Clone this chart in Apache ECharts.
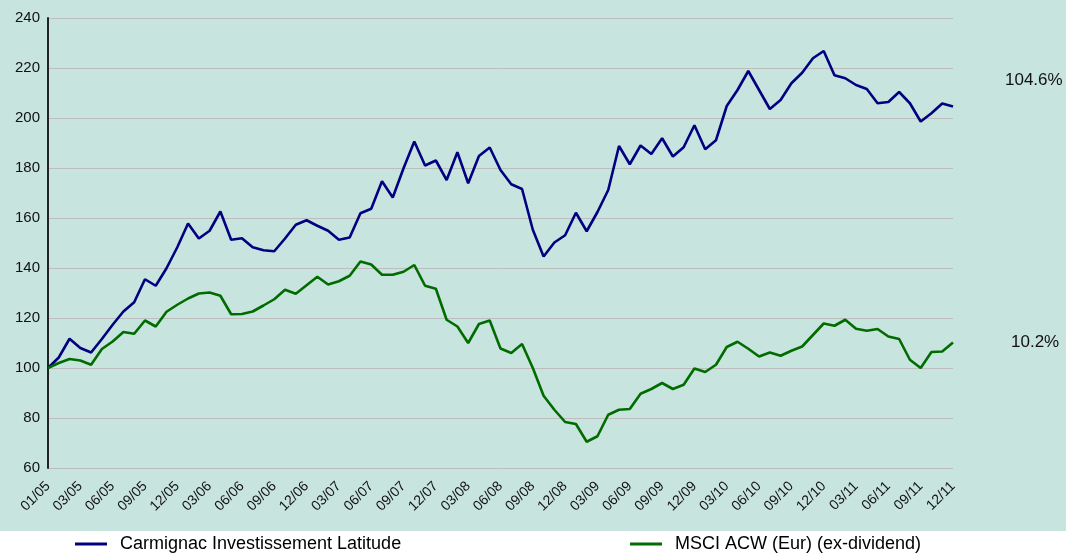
<!DOCTYPE html>
<html>
<head>
<meta charset="utf-8">
<script src="https://cdn.jsdelivr.net/npm/echarts@6/dist/echarts.min.js"></script>
<style>
  html, body { margin: 0; padding: 0; background: #ffffff; }
  #perf_chart { width: 1066px; height: 559px; }
</style>
</head>
<body>
<div id="perf_chart"></div>
<script>
// monthly points, base 100 at start; only every 3rd month is labelled
const categories = [];
for (let i = 0; i <= 84; i++) {
  const m = i % 12 || 12;
  const y = i % 12 === 0 ? 4 + i / 12 : 5 + Math.floor(i / 12);
  categories.push(String(m).padStart(2, '0') + '/' + String(y).padStart(2, '0'));
}
categories[0] = '01/05';

const fundName = 'Carmignac Investissement Latitude';
const indexName = 'MSCI ACW (Eur) (ex-dividend)';

const fundValues = [
  100, 104.2, 111.7, 108, 106.2, 111.6, 117.3, 122.6, 126.3, 135.5,
  132.9, 139.9, 148.3, 157.8, 151.8, 154.9, 162.6, 151.3, 151.9, 148.3,
  147.1, 146.7, 151.8, 157.3, 159.1, 156.9, 154.9, 151.3, 152.2, 161.9,
  163.7, 174.7, 168.2, 179.9, 190.6, 181.0, 183.0, 175.2, 186.3, 173.9,
  184.8, 188.2, 179.2, 173.5, 171.6, 155.3, 144.6, 150.2, 153.1, 162.1,
  154.7, 162.4, 171.2, 188.8, 181.5, 189.0, 185.6, 191.9, 184.6, 188.3,
  197.1, 187.5, 191.1, 204.8, 211.2, 218.8, 211.2, 203.6, 207.2, 213.9,
  218.1, 223.9, 226.8, 217.1, 215.9, 213.2, 211.6, 205.9, 206.4, 210.4,
  205.9, 198.6, 201.9, 205.8, 204.6
];

const indexValues = [
  100, 102, 103.6, 103, 101.3, 107.6, 110.6, 114.4, 113.7, 119,
  116.6, 122.5, 125.3, 127.8, 129.8, 130.2, 128.9, 121.5, 121.6, 122.6,
  125, 127.5, 131.3, 129.7, 133.1, 136.5, 133.4, 134.7, 136.9, 142.6,
  141.4, 137.3, 137.3, 138.5, 141.2, 132.9, 131.7, 119.3, 116.6, 110,
  117.6, 119, 107.8, 106, 109.6, 100, 88.9, 83.3, 78.4, 77.6,
  70.5, 72.7, 81.3, 83.3, 83.6, 89.7, 91.6, 94, 91.6, 93.3,
  99.8, 98.4, 101.3, 108.4, 110.5, 107.7, 104.6, 106.2, 104.9, 106.9,
  108.6, 113.2, 117.8, 116.9, 119.3, 115.7, 114.9, 115.6, 112.6, 111.6,
  103.3, 100, 106.4, 106.6, 110.2
];

const chart = echarts.init(document.getElementById('perf_chart'));
const font = '"Liberation Sans", Arial, sans-serif';

// label = performance since start
const perfLabel = (p) => (p.value - 100).toFixed(1) + '%';

// legend line sits a bit below the text, like an underline
const legendText = {
  fontFamily: font, fontSize: 18, color: '#000',
  padding: [0, 0, 10, 8]
};

const option = {
  animation: false,
  backgroundColor: '#ffffff',
  color: ['#000080', '#006c00'],
  graphic: [{
    type: 'rect',
    z: -10,
    shape: { x: 0, y: 0, width: 1066, height: 531 },
    style: { fill: '#c8e4de' }
  }],
  grid: { left: 48, right: 113, top: 18, bottom: 91 },
  legend: [
    {
      data: [fundName],
      left: 75, top: 535, padding: 0,
      icon: 'rect', itemWidth: 32, itemHeight: 3,
      textStyle: legendText
    },
    {
      data: [indexName],
      left: 630, top: 535, padding: 0,
      icon: 'rect', itemWidth: 32, itemHeight: 3,
      textStyle: legendText
    }
  ],
  xAxis: {
    type: 'category',
    boundaryGap: false,
    data: categories,
    axisLine: { show: false },
    axisTick: { show: false },
    axisLabel: {
      interval: 2,
      rotate: 45,
      margin: 16,
      fontFamily: font,
      fontSize: 14,
      color: '#111'
    },
    splitLine: { show: false }
  },
  yAxis: {
    type: 'value',
    min: 60,
    max: 240,
    interval: 20,
    axisLine: { show: true, lineStyle: { color: '#222', width: 2 } },
    axisTick: { show: false },
    axisLabel: { fontFamily: font, fontSize: 15, color: '#111', margin: 8 },
    splitLine: { lineStyle: { color: '#bdbdbd', width: 1 } }
  },
  series: [
    {
      name: fundName,
      type: 'line',
      data: fundValues,
      symbol: 'none',
      lineStyle: { width: 2.6 },
      endLabel: {
        show: true,
        formatter: perfLabel,
        distance: 52,
        offset: [0, -26],
        fontFamily: font,
        fontSize: 17,
        color: '#111'
      }
    },
    {
      name: indexName,
      type: 'line',
      data: indexValues,
      symbol: 'none',
      lineStyle: { width: 2.6 },
      endLabel: {
        show: true,
        formatter: perfLabel,
        distance: 58,
        fontFamily: font,
        fontSize: 17,
        color: '#111'
      }
    }
  ]
};

chart.setOption(option);
</script>
</body>
</html>
